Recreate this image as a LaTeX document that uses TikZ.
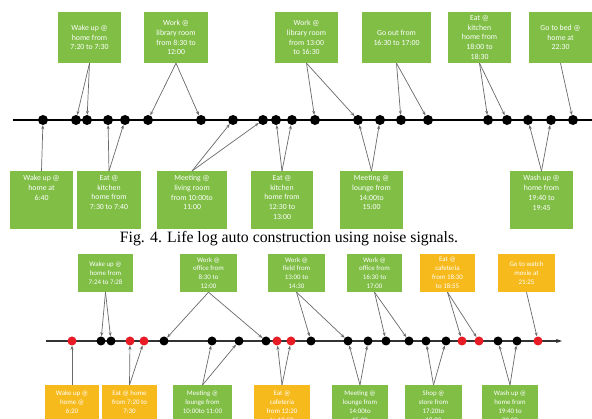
\documentclass[tikz,border=0pt]{standalone}
\usepackage{fontspec}
\setmainfont{Liberation Serif}
\newfontfamily\boxfont{Carlito}
\usetikzlibrary{arrows.meta}
\definecolor{boxgreen}{RGB}{128,190,70}
\definecolor{boxgold}{RGB}{247,186,28}
\definecolor{dotred}{RGB}{232,28,36}
\definecolor{linkgray}{RGB}{105,105,105}
% text block hanging from the top of a fixed-height box
\newcommand\hanglines[3]{\begin{minipage}[c][#1][t]{50pt}\centering\vspace*{#2}#3\end{minipage}}
\begin{document}
\begin{tikzpicture}[x=1pt,y=-1pt,
  box/.style={rectangle, inner sep=1pt, align=center, text=white},
  hbox/.style={rectangle, inner sep=1pt, text=white},
  bigfont/.style={font=\boxfont\fontsize{7.8}{9.8}\selectfont},
  smallfont/.style={font=\boxfont\fontsize{6.9}{8.8}\selectfont},
  bigbox/.style={box, bigfont},
  smallbox/.style={box, smallfont},
  gbox/.style={fill=boxgreen},
  obox/.style={fill=boxgold},
  ev/.style={circle, fill=black, inner sep=0pt, minimum size=10pt},
  evs/.style={circle, fill=black, inner sep=0pt, minimum size=9pt},
  evr/.style={evs, fill=dotred},
  axis/.style={line width=1.3pt, black},
  axistwo/.style={line width=1.6pt, black!80, -{Stealth[length=6pt,width=4pt]}},
  link/.style={line width=0.7pt, linkgray, -{Stealth[length=4pt,width=3pt]}},
]
\clip (0,0) rectangle (592,419);
\fill[white] (0,0) rectangle (592,419);

% ---------------- upper timeline ----------------
\node[bigbox,gbox,minimum width=63pt,minimum height=51pt] (t1) at (89.5,37.5) {Wake up @\\home from\\7:20 to 7:30};
\node[bigbox,gbox,minimum width=64pt,minimum height=51pt] (t2) at (176,37.5) {Work @\\library room\\from 8:30 to\\12:00};
\node[bigbox,gbox,minimum width=63pt,minimum height=51pt] (t3) at (306.5,37.5) {Work @\\library room\\from 13:00\\to 16:30};
\node[bigbox,gbox,minimum width=69pt,minimum height=51pt] (t4) at (396.5,37.5) {Go out from\\16:30 to 17:00};
\node[bigbox,gbox,minimum width=63pt,minimum height=51pt] (t5) at (479.5,37.5) {Eat @\\kitchen\\home from\\18:00 to\\18:30};
\node[bigbox,gbox,minimum width=63pt,minimum height=51pt] (t6) at (560.5,37.5) {Go to bed @\\home at\\22:30};

\node[hbox,bigfont,gbox,minimum width=63pt,anchor=north] (b1) at (41.5,171) {\hanglines{56pt}{3pt}{Wake up @\\home at\\6:40}};
\node[hbox,bigfont,gbox,minimum width=64pt,anchor=north] (b2) at (109,171) {\hanglines{56pt}{3pt}{Eat @\\kitchen\\home from\\7:30 to 7:40}};
\node[hbox,bigfont,gbox,minimum width=70pt,anchor=north] (b3) at (192,171) {\hanglines{56pt}{3pt}{Meeting @\\living room\\from 10:00to\\11:00}};
\node[hbox,bigfont,gbox,minimum width=62pt,anchor=north] (b4) at (282,171) {\hanglines{56pt}{3pt}{Eat @\\kitchen\\home from\\12:30 to\\13:00}};
\node[hbox,bigfont,gbox,minimum width=63pt,anchor=north] (b5) at (371.5,171) {\hanglines{56pt}{3pt}{Meeting @\\lounge from\\14:00to\\15:00}};
\node[hbox,bigfont,gbox,minimum width=63pt,anchor=north] (b6) at (541.5,171) {\hanglines{56pt}{3pt}{Wash up @\\home from\\19:40 to\\19:45}};

\coordinate (l0) at (13,120);
\coordinate (l1) at (592,120);
\draw[axis] (l0) -- (l1);
\foreach \x/\n in {43/a1,76/a2,87/a3,108/a4,125/a5,148/a6,201/a7,233/a8,263/a9,276/a10,
                   292/a11,315/a12,358/a13,380/a14,401/a15,428/a16,488/a17,507/a18,528/a19,551/a20,573/a21}
  \node[ev] (\n) at (\x,120) {};

\foreach \s/\d in {t1/a2,t1/a3,t2/a6,t2/a7,t3/a12,t3/a13,t4/a15,t4/a16,t5/a17,t5/a18,t6/a21}
  \draw[link] (\s.south) -- (\d);
\foreach \s/\d in {b1/a1,b2/a4,b2/a5,b3/a8,b3/a9,b4/a10,b4/a11,b5/a13,b5/a14,b6/a19,b6/a20}
  \draw[link] (\s.north) -- (\d);

\node[font=\fontsize{15.8}{18}\selectfont] (cap) at (289,239) {Fig. 4. Life log auto construction using noise signals.};

% ---------------- lower timeline ----------------
\node[smallbox,gbox,minimum width=55pt,minimum height=38pt] (u1) at (105.5,273) {Wake up @\\home from\\7:24 to 7:28};
\node[smallbox,gbox,minimum width=57pt,minimum height=38pt] (u2) at (208.5,273) {Work @\\office from\\8:30 to\\12:00};
\node[smallbox,gbox,minimum width=57pt,minimum height=38pt] (u3) at (296.5,273) {Work @\\field from\\13:00 to\\14:30};
\node[smallbox,gbox,minimum width=55pt,minimum height=38pt] (u4) at (374.5,273) {Work @\\office from\\16:30 to\\17:00};
\node[smallbox,obox,minimum width=55pt,minimum height=38pt] (u5) at (447.5,273) {Eat @\\cafeteria\\from 18:30\\to 18:55};
\node[smallbox,obox,minimum width=57pt,minimum height=38pt] (u6) at (526.5,273) {Go to watch\\movie at\\21:25};

\node[hbox,smallfont,obox,minimum width=54pt,anchor=north] (v1) at (72,385) {\hanglines{42pt}{5pt}{Wake up @\\home @\\6:20}};
\node[hbox,smallfont,obox,minimum width=55pt,anchor=north] (v2) at (129.5,385) {\hanglines{42pt}{5pt}{Eat @ home\\from 7:20 to\\7:30}};
\node[hbox,smallfont,gbox,minimum width=59pt,anchor=north] (v3) at (202.5,385) {\hanglines{42pt}{5pt}{Meeting @\\lounge from\\10:00to 11:00}};
\node[hbox,smallfont,obox,minimum width=56pt,anchor=north] (v4) at (282,385) {\hanglines{42pt}{5pt}{Eat @\\cafeteria\\from 12:20\\to 12:50}};
\node[hbox,smallfont,gbox,minimum width=56pt,anchor=north] (v5) at (360,385) {\hanglines{42pt}{5pt}{Meeting @\\lounge from\\14:00to\\15:00}};
\node[hbox,smallfont,gbox,minimum width=57pt,anchor=north] (v6) at (433.5,385) {\hanglines{42pt}{5pt}{Shop @\\store from\\17:20to\\18:00}};
\node[hbox,smallfont,gbox,minimum width=56pt,anchor=north] (v7) at (510,385) {\hanglines{42pt}{5pt}{Wash up @\\home from\\19:40 to\\20:00}};

\coordinate (m0) at (46,341);
\coordinate (m1) at (562,341);
\draw[axistwo] (m0) -- (m1);
\foreach \x/\n/\st in {72/c1/evr,101/c2/evs,111/c3/evs,130/c4/evr,144/c5/evr,164/c6/evs,212/c7/evs,
                       239/c8/evs,266/c9/evs,277/c10/evr,291/c11/evr,311/c12/evs,348/c13/evs,368/c14/evs,
                       386/c15/evs,409/c16/evs,426/c17/evs,446/c18/evs,462/c19/evr,479/c20/evr,498/c21/evs,
                       517/c22/evs,538/c23/evr}
  \node[\st] (\n) at (\x,341) {};

\foreach \s/\d in {u1/c2,u1/c3,u2/c6,u2/c9,u3/c12,u3/c13,u4/c15,u4/c16,u5/c19,u5/c20,u6/c23}
  \draw[link] (\s.south) -- (\d);
\foreach \s/\d in {v1/c1,v2/c4,v2/c5,v3/c7,v3/c8,v4/c10,v4/c11,v5/c13,v5/c14,v6/c17,v6/c18,v7/c21,v7/c22}
  \draw[link] (\s.north) -- (\d);
\end{tikzpicture}
\end{document}
